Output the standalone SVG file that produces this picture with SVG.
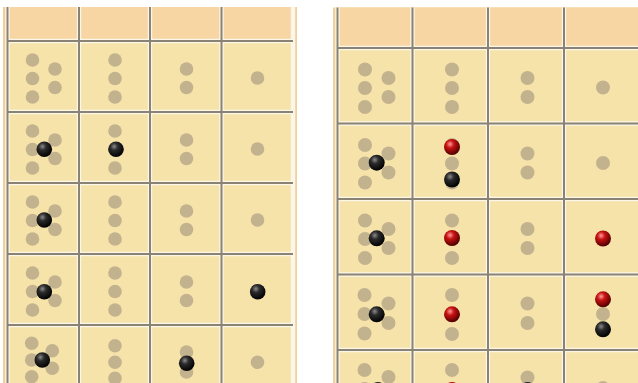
<svg xmlns="http://www.w3.org/2000/svg" width="638" height="383" viewBox="0 0 638 383">
<defs>
<radialGradient id="gb" cx="0.38" cy="0.32" r="0.7">
<stop offset="0" stop-color="#8a8a8a"/>
<stop offset="0.35" stop-color="#2a2a2a"/>
<stop offset="1" stop-color="#000"/>
</radialGradient>
<radialGradient id="gr" cx="0.38" cy="0.32" r="0.7">
<stop offset="0" stop-color="#ff9a9a"/>
<stop offset="0.35" stop-color="#c81212"/>
<stop offset="1" stop-color="#4a0000"/>
</radialGradient>
</defs>
<style>
.frame{fill:#f1d19b}
.hd{fill:#f7d6a3}
.cell{fill:#f6e3aa}
.d{fill:#c3b28e}
.b{fill:url(#gb)}
.r{fill:url(#gr)}
.gw{stroke:#fbf6ea;stroke-width:4.4;fill:none}
.gd{stroke:#8a8272;stroke-width:2;fill:none}
</style>
<rect width="638" height="383" fill="#ffffff"/>

<!-- LEFT PANEL -->
<g id="leftPanel">
<rect class="frame" x="3" y="7" width="294" height="376"/>
<rect class="hd" x="7.5" y="7" width="285.5" height="34"/>
<rect class="cell" x="7.5" y="41" width="285.5" height="342"/>
<g id="leftGrid">
<path class="gw" d="M7.5 41H293M7.5 112H293M7.5 183H293M7.5 254H293M7.5 325H293M79 7V383M150 7V383M221.5 7V383M7.5 7V383M293 7V383"/>
<path class="gd" d="M7.5 41H293M7.5 112H293M7.5 183H293M7.5 254H293M7.5 325H293M79 7V383M150 7V383M221.5 7V383M7.5 7V383"/>
</g>
</g>

<g id="L1c1"><circle class="d" cx="32.5" cy="60" r="6.8"/><circle class="d" cx="32.5" cy="78.5" r="6.8"/><circle class="d" cx="32.5" cy="97" r="6.8"/><circle class="d" cx="55" cy="69" r="6.8"/><circle class="d" cx="55" cy="87.5" r="6.8"/></g>
<g id="L1c2"><circle class="d" cx="115" cy="60" r="6.8"/><circle class="d" cx="115" cy="78.5" r="6.8"/><circle class="d" cx="115" cy="97" r="6.8"/></g>
<g id="L1c3"><circle class="d" cx="186.5" cy="69" r="6.8"/><circle class="d" cx="186.5" cy="87.5" r="6.8"/></g>
<g id="L1c4"><circle class="d" cx="257.5" cy="78" r="6.8"/></g>

<g id="L2c1"><circle class="d" cx="32.5" cy="131" r="6.8"/><circle class="d" cx="32.5" cy="149.5" r="6.8"/><circle class="d" cx="32.5" cy="168" r="6.8"/><circle class="d" cx="55" cy="140" r="6.8"/><circle class="d" cx="55" cy="158.5" r="6.8"/><circle class="b" cx="44.3" cy="149.3" r="7.8"/></g>
<g id="L2c2"><circle class="d" cx="115" cy="131" r="6.8"/><circle class="d" cx="115" cy="149.5" r="6.8"/><circle class="d" cx="115" cy="168" r="6.8"/><circle class="b" cx="116" cy="149.3" r="7.8"/></g>
<g id="L2c3"><circle class="d" cx="186.5" cy="140" r="6.8"/><circle class="d" cx="186.5" cy="158.5" r="6.8"/></g>
<g id="L2c4"><circle class="d" cx="257.5" cy="149" r="6.8"/></g>

<g id="L3c1"><circle class="d" cx="32.5" cy="202" r="6.8"/><circle class="d" cx="32.5" cy="220.5" r="6.8"/><circle class="d" cx="32.5" cy="239" r="6.8"/><circle class="d" cx="55" cy="211" r="6.8"/><circle class="d" cx="55" cy="229.5" r="6.8"/><circle class="b" cx="44.3" cy="220" r="7.8"/></g>
<g id="L3c2"><circle class="d" cx="115" cy="202" r="6.8"/><circle class="d" cx="115" cy="220.5" r="6.8"/><circle class="d" cx="115" cy="239" r="6.8"/></g>
<g id="L3c3"><circle class="d" cx="186.5" cy="211" r="6.8"/><circle class="d" cx="186.5" cy="229.5" r="6.8"/></g>
<g id="L3c4"><circle class="d" cx="257.5" cy="220" r="6.8"/></g>

<g id="L4c1"><circle class="d" cx="32.5" cy="273" r="6.8"/><circle class="d" cx="32.5" cy="291.5" r="6.8"/><circle class="d" cx="32.5" cy="310" r="6.8"/><circle class="d" cx="55" cy="282" r="6.8"/><circle class="d" cx="55" cy="300.5" r="6.8"/><circle class="b" cx="44.3" cy="291.7" r="7.8"/></g>
<g id="L4c2"><circle class="d" cx="115" cy="273" r="6.8"/><circle class="d" cx="115" cy="291.5" r="6.8"/><circle class="d" cx="115" cy="310" r="6.8"/></g>
<g id="L4c3"><circle class="d" cx="186.5" cy="282" r="6.8"/><circle class="d" cx="186.5" cy="300.5" r="6.8"/></g>
<g id="L4c4"><circle class="d" cx="257.5" cy="291" r="6.8"/><circle class="b" cx="257.7" cy="291.7" r="7.8"/></g>

<g id="L5c1"><circle class="d" cx="31.7" cy="343.3" r="6.8"/><circle class="d" cx="31.7" cy="360" r="6.8"/><circle class="d" cx="31.7" cy="376.7" r="6.8"/><circle class="d" cx="52.3" cy="350.7" r="6.8"/><circle class="d" cx="52.3" cy="368.3" r="6.8"/><circle class="b" cx="42.3" cy="360" r="7.8"/></g>
<g id="L5c2"><circle class="d" cx="115" cy="345.7" r="6.8"/><circle class="d" cx="115" cy="362.3" r="6.8"/><circle class="d" cx="115" cy="378.3" r="6.8"/></g>
<g id="L5c3"><circle class="d" cx="186.5" cy="352" r="6.8"/><circle class="d" cx="186.5" cy="372" r="6.8"/><circle class="b" cx="186.7" cy="363.3" r="7.8"/></g>
<g id="L5c4"><circle class="d" cx="257.5" cy="362.3" r="6.8"/></g>

<!-- RIGHT PANEL -->
<g id="rightPanel">
<rect class="frame" x="333" y="7.5" width="305" height="375.5"/>
<rect class="hd" x="337.5" y="7.5" width="300.5" height="40.5"/>
<rect class="cell" x="337.5" y="48" width="300.5" height="335"/>
<g id="rightGrid">
<path class="gw" d="M337.5 48H638M337.5 123.5H638M337.5 199H638M337.5 274.5H638M337.5 350H638M412.5 7.5V383M488 7.5V383M564 7.5V383M337.5 7.5V383"/>
<path class="gd" d="M337.5 48H638M337.5 123.5H638M337.5 199H638M337.5 274.5H638M337.5 350H638M412.5 7.5V383M488 7.5V383M564 7.5V383M337.5 7.5V383"/>
</g>
</g>

<g id="R1c1"><circle class="d" cx="365" cy="69.5" r="7"/><circle class="d" cx="365" cy="88" r="7"/><circle class="d" cx="365" cy="107" r="7"/><circle class="d" cx="388.5" cy="78" r="7"/><circle class="d" cx="388.5" cy="97" r="7"/></g>
<g id="R1c2"><circle class="d" cx="452" cy="69.5" r="7"/><circle class="d" cx="452" cy="88" r="7"/><circle class="d" cx="452" cy="107" r="7"/></g>
<g id="R1c3"><circle class="d" cx="527.5" cy="78" r="7"/><circle class="d" cx="527.5" cy="97" r="7"/></g>
<g id="R1c4"><circle class="d" cx="603" cy="87.5" r="7"/></g>

<g id="R2c1"><circle class="d" cx="365" cy="145" r="7"/><circle class="d" cx="365" cy="163.5" r="7"/><circle class="d" cx="365" cy="182.5" r="7"/><circle class="d" cx="388.5" cy="153.5" r="7"/><circle class="d" cx="388.5" cy="172.5" r="7"/><circle class="b" cx="376.7" cy="162.7" r="8"/></g>
<g id="R2c2"><circle class="d" cx="452" cy="145" r="7"/><circle class="d" cx="452" cy="163.5" r="7"/><circle class="d" cx="452" cy="182.5" r="7"/><circle class="r" cx="452" cy="147" r="8"/><circle class="b" cx="452" cy="179.5" r="8"/></g>
<g id="R2c3"><circle class="d" cx="527.5" cy="153.5" r="7"/><circle class="d" cx="527.5" cy="172.5" r="7"/></g>
<g id="R2c4"><circle class="d" cx="603" cy="163" r="7"/></g>

<g id="R3c1"><circle class="d" cx="365" cy="220.5" r="7"/><circle class="d" cx="365" cy="239" r="7"/><circle class="d" cx="365" cy="258" r="7"/><circle class="d" cx="388.5" cy="229" r="7"/><circle class="d" cx="388.5" cy="248" r="7"/><circle class="b" cx="376.7" cy="238.3" r="8"/></g>
<g id="R3c2"><circle class="d" cx="452" cy="220.5" r="7"/><circle class="d" cx="452" cy="239" r="7"/><circle class="d" cx="452" cy="258" r="7"/><circle class="r" cx="452" cy="238" r="8"/></g>
<g id="R3c3"><circle class="d" cx="527.5" cy="229" r="7"/><circle class="d" cx="527.5" cy="248" r="7"/></g>
<g id="R3c4"><circle class="d" cx="603" cy="238.5" r="7"/><circle class="r" cx="603" cy="238.5" r="8"/></g>

<g id="R4c1"><circle class="d" cx="364.5" cy="295" r="7"/><circle class="d" cx="364.5" cy="314" r="7"/><circle class="d" cx="364.5" cy="333.5" r="7"/><circle class="d" cx="388.5" cy="303.5" r="7"/><circle class="d" cx="388.5" cy="323" r="7"/><circle class="b" cx="376.7" cy="314.3" r="8"/></g>
<g id="R4c2"><circle class="d" cx="452" cy="295" r="7"/><circle class="d" cx="452" cy="314" r="7"/><circle class="d" cx="452" cy="334" r="7"/><circle class="r" cx="452" cy="314.3" r="8"/></g>
<g id="R4c3"><circle class="d" cx="527.5" cy="303.5" r="7"/><circle class="d" cx="527.5" cy="323" r="7"/></g>
<g id="R4c4"><circle class="d" cx="603" cy="314" r="7"/><circle class="r" cx="603" cy="299.3" r="8"/><circle class="b" cx="603" cy="329.3" r="8"/></g>

<g id="R5c1"><circle class="d" cx="364.5" cy="370" r="7"/><circle class="d" cx="364.5" cy="389" r="7"/><circle class="d" cx="388.5" cy="377" r="7"/><circle class="b" cx="378" cy="390" r="8"/></g>
<g id="R5c2"><circle class="d" cx="452" cy="370" r="7"/><circle class="r" cx="452" cy="390" r="8"/></g>
<g id="R5c3"><circle class="d" cx="527.5" cy="377.5" r="7"/><circle class="b" cx="527.5" cy="390" r="8"/></g>
<g id="R5c4"><circle class="d" cx="603" cy="388" r="7"/></g>
</svg>
